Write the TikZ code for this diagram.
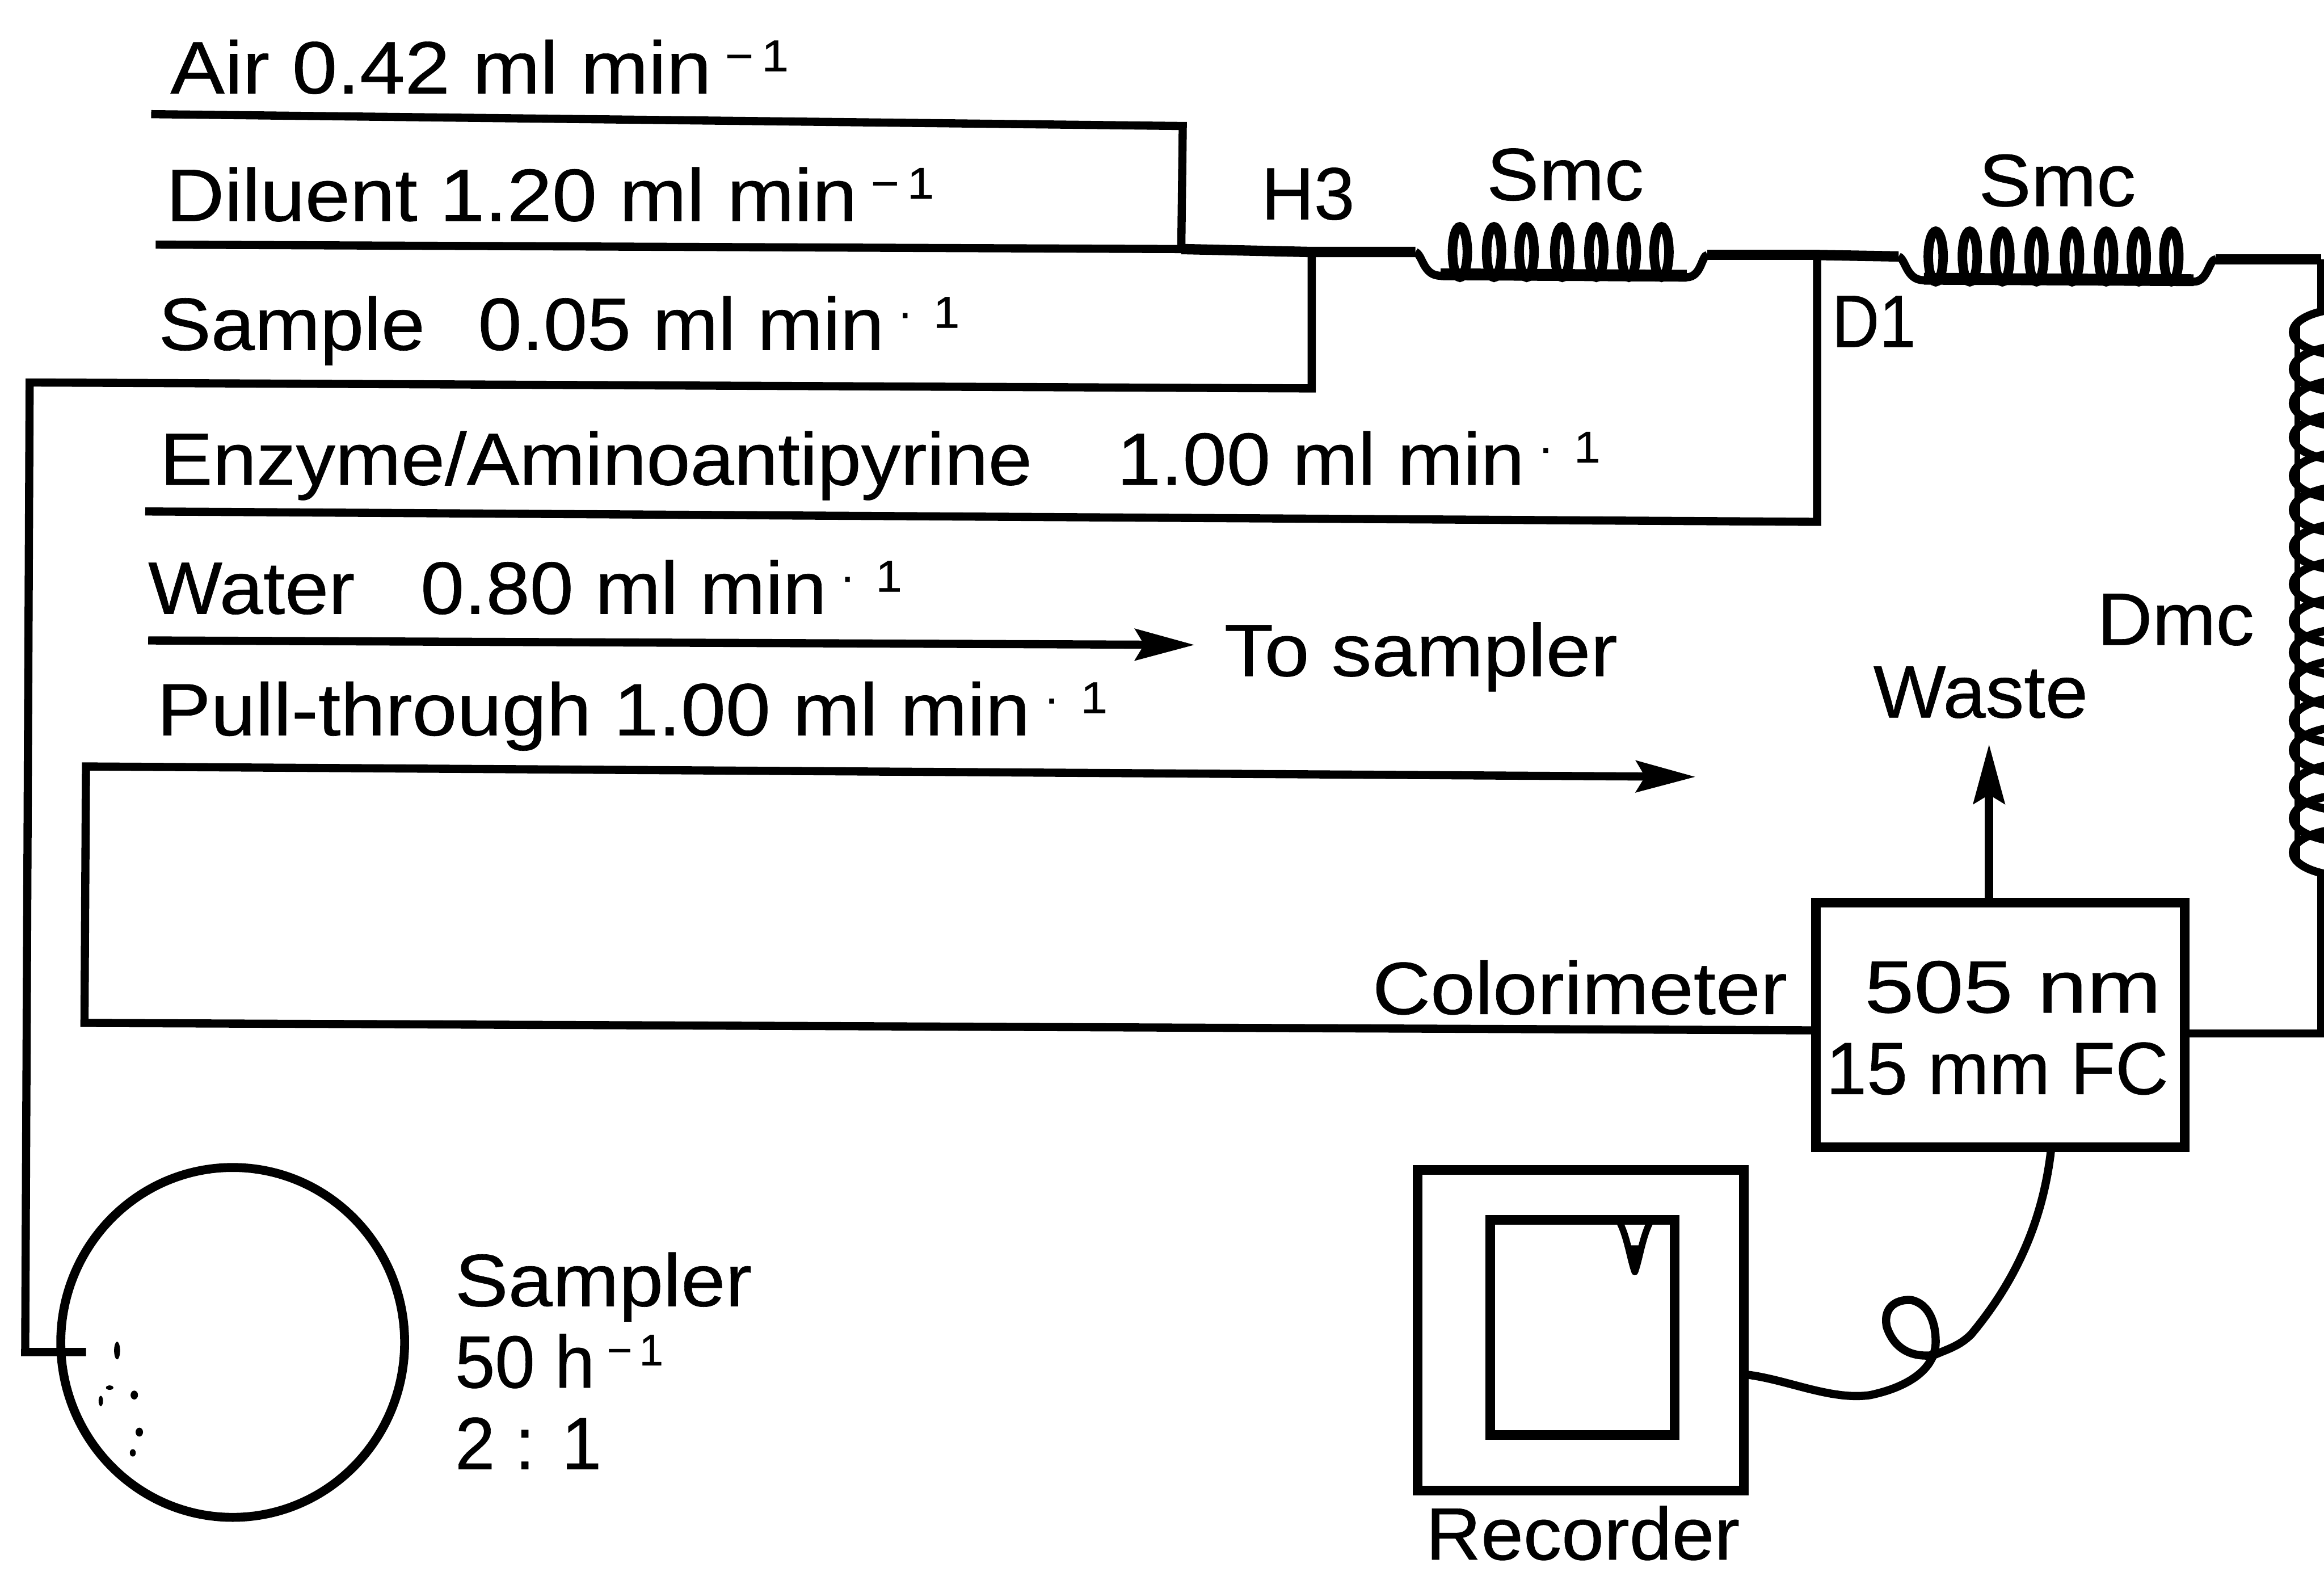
\documentclass[tikz,border=0pt]{standalone}
\usepackage{graphicx}
\usepackage{fontspec}
\setmainfont[FakeBold=0.5]{Liberation Sans}
\usetikzlibrary{arrows.meta,shapes.geometric}
\newcommand{\mysup}[1]{\raisebox{15pt}{\fontsize{30}{32}\selectfont #1}}
\newcommand{\msup}{\,\mysup{−\,1}}
\newcommand{\dsup}{\,\mysup{·\hspace{13pt}1}}
\newcommand{\sx}[2]{\scalebox{#1}[1]{#2}}
\tikzset{
  lbl/.style={anchor=base west,inner sep=0pt,outer sep=0pt,font=\fontsize{50}{54}\selectfont},
  tube/.style={line width=5.5pt,line join=miter,line cap=butt},
  main tube/.style={line width=7pt,line join=miter,line cap=butt},
  flow/.style={tube,-{Stealth[length=40pt,width=21pt,inset=6pt]}},
  coil/.style={line width=6.4pt},
  box/.style={draw,line width=6pt,inner sep=0pt,outer sep=0pt},
  frame/.style={line width=6.5pt},
  cable/.style={line width=5.5pt,line join=round},
  speck/.style={fill=black}
}
\begin{document}
\begin{tikzpicture}[x=1pt,y=-1pt]
\useasboundingbox (0,0) rectangle (1568,1063);
% labels
\node[lbl] (air) at (115,63) {\sx{1.095}{Air 0.42 ml min\msup}};
\node[lbl] (dil) at (112,149) {\sx{1.09}{Diluent 1.20 ml min\msup}};
\node[lbl] (sam) at (107,236) {\sx{1.06}{Sample\hspace{20pt} 0.05 ml min\dsup}};
\node[lbl] (enz) at (108,327) {\sx{1.064}{Enzyme/Aminoantipyrine\hspace{40pt} 1.00 ml min\dsup}};
\node[lbl] (wat) at (100,414) {\sx{1.06}{Water\hspace{28pt} 0.80 ml min\dsup}};
\node[lbl] (pul) at (106,496) {\sx{1.087}{Pull-through 1.00 ml min\dsup}};
\node[lbl] (tos) at (826,456) {\sx{1.085}{To sampler}};
\node[lbl] (h3) at (851,148) {\sx{0.985}{H3}};
\node[lbl] (smca) at (1003,135) {\sx{1.06}{Smc}};
\node[lbl] (smcb) at (1335,139) {\sx{1.06}{Smc}};
\node[lbl] (d1) at (1236,234) {\sx{0.885}{D1}};
\node[lbl] (dmc) at (1415,435) {\sx{1.03}{Dmc}};
\node[lbl] (was) at (1264,484) {\sx{1.035}{Waste}};
\node[lbl] (col) at (926,684) {\sx{1.083}{Colorimeter}};
\node[lbl] (nm) at (1258,683) {\sx{1.2}{505 nm}};
\node[lbl] (fc) at (1232,738) {\sx{0.99}{15 mm FC}};
\node[lbl] (sa) at (307,881) {\sx{1.076}{Sampler}};
\node[lbl] (sb) at (307,936) {\sx{0.97}{50 h\,\mysup{−\,1}}};
\node[lbl] (sc) at (307,991) {\sx{0.97}{2 : 1}};
\node[lbl] (rec) at (962,1052) {\sx{1.03}{Recorder}};
% equipment
\node[box,ellipse,minimum width=232pt,minimum height=236pt] (sampler) at (157,905.5) {};
\draw[frame] (956.5,789) rectangle (1176.5,1005.5);
\coordinate (recR) at (1176.5,927);
\draw[frame] (1005.5,823) rectangle (1130,968);
\coordinate (colTL) at (1225,609);
\coordinate (colBR) at (1474,774);
\draw[frame] (colTL) rectangle (colBR);
% pen of the recorder
\draw[line width=4.5pt,line join=round] (1093,825) .. controls (1098,835) and (1100,850) .. (1103,858) .. controls (1106,850) and (1108,835) .. (1113,825);
\fill (1099,840) -- (1103,859) -- (1107,840) -- cycle;
% air, diluent and mixing line
\coordinate (airL) at (102,77);
\coordinate (airR) at (798,85);
\coordinate (dilL) at (105,165);
\coordinate (h3j) at (797,168);
\coordinate (sj) at (885,170);
\coordinate (c1a) at (955,170);
\draw[tube] (airL) -- (airR) -- (h3j);
\draw[tube] (dilL) -- (h3j) -- (sj);
\draw[main tube] (h3j) -- (sj) -- (c1a);
% sample line
\coordinate (samR) at (885,262);
\draw[tube] (sj) -- (samR) -- (20,258) -- (17,912) -- (58,912);
\foreach \px/\py/\rx/\ry in {79/911/2/6,74/936/2.5/1.5,68/945/1.5/3.5,90.6/941/2.5/3,94/966/2.5/3,89.6/980/2/2.5}
  \fill[speck] (\px,\py) ellipse [x radius=\rx,y radius=\ry];
% first mixing coil
\coordinate (c1b) at (1152,172);
\coordinate (d1j) at (1226,172);
\draw[tube] (c1a) .. controls (960,172) and (960,186) .. (972,186) -- (1138,187) .. controls (1148,187) and (1148,172) .. (c1b);
\draw[main tube] (c1b) -- (d1j);
\draw[line width=8pt] (972,185) -- (1138,186);
\foreach \cx in {985,1008,1030,1054,1077,1099,1121}
  \draw[coil] (\cx,170) ellipse [x radius=5,y radius=17];
% enzyme line
\coordinate (enzL) at (98,345);
\coordinate (enzR) at (1226,352);
\draw[tube] (enzL) -- (enzR) -- (d1j);
% second mixing coil
\coordinate (c2a) at (1281,173);
\coordinate (c2b) at (1495,175);
\coordinate (corner) at (1566,175);
\draw[main tube] (d1j) -- (c2a);
\draw[tube] (c2a) .. controls (1286,175) and (1286,189) .. (1298,189) -- (1480,190) .. controls (1490,190) and (1490,175) .. (c2b);
\draw[main tube] (c2b) -- (corner);
\draw[tube] (corner) -- (1566,209);
\draw[line width=8pt] (1298,188) -- (1480,189);
\foreach \cx in {1306,1329,1351,1374,1398,1421,1443,1465}
  \draw[coil] (\cx,173) ellipse [x radius=5,y radius=17];
% delay coil
\foreach \cy in {224,249,272,295,321,344,369,394,419,440,461,486,506,531,552,575}
  \draw[line width=5.5pt] (1585,\cy) ellipse [x radius=38,y radius=16];
\draw[line width=4pt] (1550,218) -- (1550,582);
\coordinate (dlyB) at (1566,590);
\coordinate (colR) at (1474,697);
\draw[tube] (dlyB) -- (1566,697) -- (colR);
% flows out
\coordinate (watL) at (100,432);
\coordinate (watR) at (806,435);
\draw[flow] (watL) -- (watR);
\coordinate (colL) at (1225,695);
\coordinate (pullR) at (1144,524);
\draw[flow] (colL) -- (57,690) -- (58,517) -- (pullR);
\coordinate (colT) at (1342,609);
\coordinate (wasT) at (1342,502);
\draw[flow] (colT) -- (wasT);
% recorder cable
\coordinate (colB) at (1384,774);
\draw[cable] (colB) .. controls (1378,830) and (1355,870) .. (1330,900)
  .. controls (1322,908) and (1314,910) .. (1305,914)
  .. controls (1290,916) and (1278,910) .. (1273,895)
  .. controls (1270,880) and (1282,876) .. (1290,877)
  .. controls (1302,880) and (1306,893) .. (1306,905)
  .. controls (1306,922) and (1290,935) .. (1262,941)
  .. controls (1235,945) and (1205,930) .. (recR);
\end{tikzpicture}
\end{document}
